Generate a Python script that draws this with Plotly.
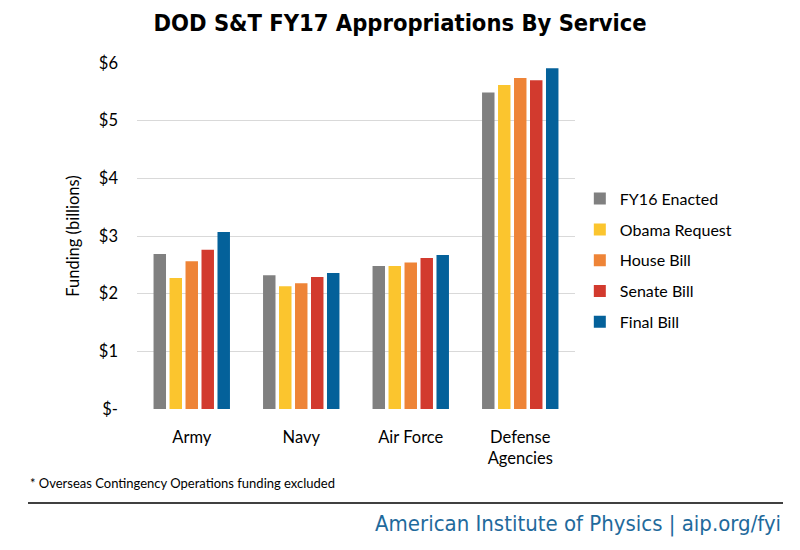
import plotly.graph_objects as go

categories = ["Army", "Navy", "Air Force", "Defense<br>Agencies"]
series_names = ["FY16 Enacted", "Obama Request", "House Bill", "Senate Bill", "Final Bill"]
fy16_enacted = [2.69, 2.32, 2.48, 5.49]
obama_request = [2.27, 2.13, 2.48, 5.62]
house_bill = [2.56, 2.18, 2.54, 5.74]
senate_bill = [2.76, 2.29, 2.62, 5.70]
final_bill = [3.07, 2.36, 2.67, 5.91]
colors = ["#808080", "#fbc52e", "#ee8437", "#d23a2e", "#04619a"]
tick_vals = [0, 1, 2, 3, 4, 5, 6]
tick_text = ["$-", "$1", "$2", "$3", "$4", "$5", "$6"]

values = [fy16_enacted, obama_request, house_bill, senate_bill, final_bill]

font_main = "Lato, 'Open Sans', sans-serif"
font_cond = "'DejaVu Sans Condensed', sans-serif"

fig = go.Figure()
for name, vals, col in zip(series_names, values, colors):
    fig.add_trace(go.Bar(x=categories, y=vals, name=name, marker_color=col,
                         marker_line_width=0, legendgroup=name))

fig.update_layout(
    width=800, height=550,
    margin=dict(l=137, r=225, t=63, b=141),
    paper_bgcolor="white", plot_bgcolor="white",
    barmode="group", bargap=0.27, bargroupgap=0.22,
    font=dict(family=font_main, size=16, color="#000000"),
    title=dict(text="<b>DOD S&T FY17 Appropriations By Service</b>",
               x=0.5, xanchor="center", y=0.958, yanchor="middle",
               font=dict(family=font_cond, size=23.5, color="#000000")),
    legend=dict(x=1.011, xanchor="left", y=0.43, yanchor="middle",
                font=dict(size=16), tracegroupgap=7, itemwidth=30,
                bgcolor="rgba(0,0,0,0)"),
    xaxis=dict(showline=False, showgrid=False, ticks="",
               tickfont=dict(size=16.5), ticklabelstandoff=16),
    yaxis=dict(range=[0, 6], tickvals=tick_vals, ticktext=tick_text,
               showgrid=True, gridcolor="#d9d9d9", gridwidth=1,
               zeroline=False, showline=False, ticks="",
               tickfont=dict(size=16.5), ticklabelstandoff=18,
               title=dict(text="Funding (billions)", font=dict(size=16.5), standoff=15)),
    showlegend=True,
)

fig.add_annotation(text="* Overseas Contingency Operations funding excluded",
                   xref="paper", yref="paper", x=(28 - 137) / 438, y=(550 - 483 - 141) / 346,
                   xanchor="left", yanchor="middle", showarrow=False,
                   font=dict(size=13, family=font_main, color="#000000"))
fig.add_shape(type="line", xref="paper", yref="paper",
              x0=(28 - 137) / 438, x1=(783 - 137) / 438,
              y0=(550 - 503 - 141) / 346, y1=(550 - 503 - 141) / 346,
              line=dict(color="#000000", width=1.5))
fig.add_annotation(text="American Institute of Physics | aip.org/fyi",
                   xref="paper", yref="paper", x=(783 - 137) / 438, y=(550 - 524 - 141) / 346,
                   xanchor="right", yanchor="middle", showarrow=False,
                   font=dict(size=22, family=font_cond, color="#1f6a9c"))

fig.write_html("out.html")
